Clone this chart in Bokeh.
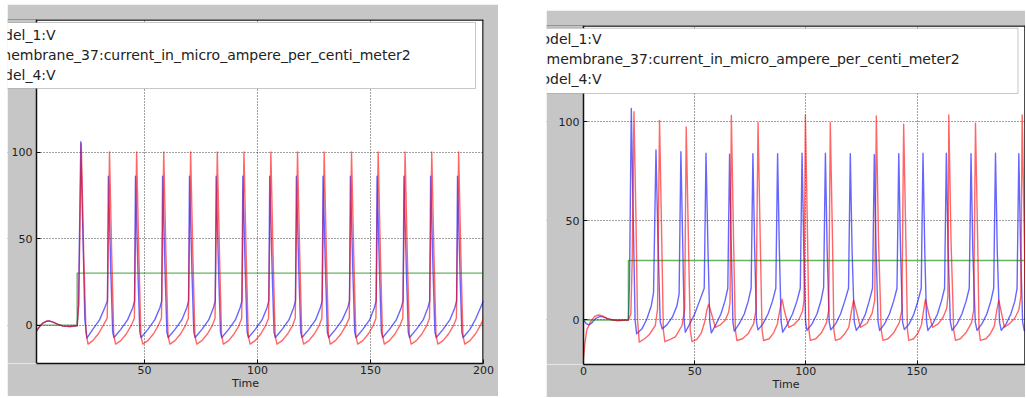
from bokeh.plotting import figure
from bokeh.layouts import row
from bokeh.models import Range1d, FixedTicker, Label, BoxAnnotation, Span
from bokeh.embed import file_html
from bokeh.resources import INLINE

# ---------------- data ----------------
LEGEND_TEXTS = ["odel_1:V",
                "membrane_37:current_in_micro_ampere_per_centi_meter2",
                "odel_4:V"]
X_LABEL = "Time"

LEFT_XTICKS = [50, 100, 150, 200]
LEFT_YTICKS = [0, 50, 100]
RIGHT_XTICKS = [0, 50, 100, 150]
RIGHT_YTICKS = [0, 50, 100]

# visible data limits of each panel (x start, x end, y start, y end)
LEFT_LIMITS = (2.2, 200.0, -22.2, 176.6)
RIGHT_LIMITS = (0.0, 198.8, -22.5, 148.7)

# left panel: model_1:V (blue)
LEFT_BLUE = [
    (2.2, -3.4), (3.5, -1.0), (5.0, 1.2), (6.5, 2.2), (7.8, 2.4), (9.5, 1.7), (11.5, 0.5),
    (14.0, -0.6), (17.0, -0.8), (20.2, -0.4), (20.8, 12), (21.8, 106), (22.7, 55), (23.6, 3), (24.5, -7.5),
    (27.1, -2.5), (30.1, 3), (32.4, 10), (33.6, 14), (34.0, 86), (35.1, 30), (35.9, -4), (36.5, -7.2),
    (39.5, -2.5), (42.5, 3), (44.8, 10), (45.6, 14), (46.0, 86), (47.1, 30), (47.9, -4), (48.5, -7.2),
    (51.5, -2.5), (54.5, 3), (56.8, 10), (57.6, 14), (58.0, 86), (59.1, 30), (59.9, -4), (60.5, -7.2),
    (63.5, -2.5), (66.5, 3), (68.7, 10), (69.5, 14), (69.9, 86), (71.0, 30), (71.8, -4), (72.4, -7.2),
    (75.4, -2.5), (78.4, 3), (80.5, 10), (81.3, 14), (81.7, 86), (82.8, 30), (83.6, -4), (84.2, -7.2),
    (87.2, -2.5), (90.2, 3), (92.3, 10), (93.1, 14), (93.5, 86), (94.6, 30), (95.4, -4), (96.0, -7.2),
    (99.0, -2.5), (102.0, 3), (104.2, 10), (105.0, 14), (105.4, 86), (106.5, 30), (107.3, -4), (107.9, -7.2),
    (110.9, -2.5), (113.9, 3), (116.0, 10), (116.8, 14), (117.2, 86), (118.3, 30), (119.1, -4), (119.7, -7.2),
    (122.7, -2.5), (125.7, 3), (127.8, 10), (128.6, 14), (129.0, 86), (130.1, 30), (130.9, -4), (131.5, -7.2),
    (134.5, -2.5), (137.5, 3), (139.9, 10), (140.7, 14), (141.1, 86), (142.2, 30), (143.0, -4), (143.6, -7.2),
    (146.6, -2.5), (149.6, 3), (151.7, 10), (152.5, 14), (152.9, 86), (154.0, 30), (154.8, -4), (155.4, -7.2),
    (158.4, -2.5), (161.4, 3), (163.6, 10), (164.4, 14), (164.8, 86), (165.9, 30), (166.7, -4), (167.3, -7.2),
    (170.3, -2.5), (173.3, 3), (175.4, 10), (176.2, 14), (176.6, 86), (177.7, 30), (178.5, -4), (179.1, -7.2),
    (182.1, -2.5), (185.1, 3), (187.3, 10), (188.1, 14), (188.5, 86), (189.6, 30), (190.4, -4), (191.0, -7.2),
    (194.0, -2.5), (196.5, 3.5), (199.0, 11), (200.0, 14),
]

# left panel: membrane_37 current (green)
LEFT_GREEN = [(2.2, 0), (20.2, 0), (20.2, 30), (200.0, 30)]

# left panel: model_4:V (red)
LEFT_RED = [
    (2.2, -3.4), (3.5, -1.0), (5.0, 1.2), (6.5, 2.2), (7.8, 2.4), (9.5, 1.7), (11.5, 0.5),
    (14.0, -0.6), (17.0, -0.8), (20.2, -0.4), (20.9, 12), (22.0, 105), (23.1, 40), (24.1, -4), (25.0, -11),
    (27.1, -9), (29.6, -5), (31.6, -0.5), (33.5, 4), (34.5, 100), (35.5, 40), (36.4, -6), (37.2, -11),
    (39.5, -9), (42.0, -5), (44.0, -0.5), (45.5, 4), (46.5, 100), (47.5, 40), (48.4, -6), (49.2, -11),
    (51.5, -9), (54.0, -5), (56.0, -0.5), (57.5, 4), (58.5, 100), (59.5, 40), (60.4, -6), (61.2, -11),
    (63.5, -9), (66.0, -5), (68.0, -0.5), (69.4, 4), (70.4, 100), (71.4, 40), (72.3, -6), (73.1, -11),
    (75.4, -9), (77.9, -5), (79.9, -0.5), (81.2, 4), (82.2, 100), (83.2, 40), (84.1, -6), (84.9, -11),
    (87.2, -9), (89.7, -5), (91.7, -0.5), (93.0, 4), (94.0, 100), (95.0, 40), (95.9, -6), (96.7, -11),
    (99.0, -9), (101.5, -5), (103.5, -0.5), (104.9, 4), (105.9, 100), (106.9, 40), (107.8, -6), (108.6, -11),
    (110.9, -9), (113.4, -5), (115.4, -0.5), (116.7, 4), (117.7, 100), (118.7, 40), (119.6, -6), (120.4, -11),
    (122.7, -9), (125.2, -5), (127.2, -0.5), (128.5, 4), (129.5, 100), (130.5, 40), (131.4, -6), (132.2, -11),
    (134.5, -9), (137.0, -5), (139.0, -0.5), (140.6, 4), (141.6, 100), (142.6, 40), (143.5, -6), (144.3, -11),
    (146.6, -9), (149.1, -5), (151.1, -0.5), (152.4, 4), (153.4, 100), (154.4, 40), (155.3, -6), (156.1, -11),
    (158.4, -9), (160.9, -5), (162.9, -0.5), (164.3, 4), (165.3, 100), (166.3, 40), (167.2, -6), (168.0, -11),
    (170.3, -9), (172.8, -5), (174.8, -0.5), (176.1, 4), (177.1, 100), (178.1, 40), (179.0, -6), (179.8, -11),
    (182.1, -9), (184.6, -5), (186.6, -0.5), (188.0, 4), (189.0, 100), (190.0, 40), (190.9, -6), (191.7, -11),
    (194.0, -9), (196.5, -5), (198.5, -0.5), (200.0, 4),
]

# right panel: model_1:V (blue)
RIGHT_BLUE = [
    (0.0, 0.0), (1.2, -1.8), (2.5, -2.5), (4.0, -1.2), (5.5, 0.8), (7.5, 1.8), (9.5, 1.3), (12.0, 0.2),
    (15.0, -0.3), (20.2, 0.0), (20.7, 20), (21.5, 106.8), (22.4, 50), (23.2, 0), (23.9, -7),
    (26.3, -4.5), (28.5, 0.5), (30.5, 7.2), (31.5, 13.8), (32.6, 85.8), (33.5, 40), (34.5, -1), (35.4, -4.5),
    (37.5, -2.5), (40.0, 1.5), (42.0, 7), (43.0, 13), (43.8, 85), (44.6, 40), (45.3, -1), (45.8, -6.2),
    (47.8, -2), (50.0, 3), (52.0, 9), (54.3, 16), (55.1, 84.2), (56.0, 35), (56.8, -1), (57.5, -6.5),
    (59.7, -2), (61.8, 3), (63.6, 9.5), (64.9, 16), (65.7, 83.7), (66.5, 35), (67.2, -1), (67.8, -5.7),
    (70.0, -2), (72.3, 3), (74.1, 9.5), (75.4, 16), (76.2, 84), (77.0, 35), (77.8, -1), (78.5, -5),
    (80.7, -2), (83.0, 3), (85.0, 9.5), (86.5, 16), (87.3, 84), (88.1, 35), (88.9, -1), (89.6, -6.2),
    (91.8, -2), (94.0, 3), (96.0, 9.5), (97.5, 16), (98.3, 84.2), (99.1, 35), (99.9, -1), (100.5, -5.3),
    (102.8, -2), (105.0, 3), (106.8, 9.7), (108.0, 16.3), (108.8, 84.2), (109.6, 35), (110.5, -1), (111.2, -5),
    (113.4, -2), (115.6, 3), (117.5, 9.5), (119.2, 16), (120.0, 84), (120.8, 35), (121.8, -1), (122.7, -5.3),
    (124.8, -2), (126.8, 3), (128.5, 9.5), (130.0, 16), (130.8, 83.5), (131.6, 35), (132.5, -1), (133.2, -5.3),
    (135.4, -2), (137.6, 3), (139.5, 9.5), (141.0, 16), (141.8, 84), (142.6, 35), (143.5, -1), (144.3, -4.8),
    (146.5, -2), (148.6, 3), (150.4, 9.5), (151.9, 16), (152.7, 84.2), (153.5, 35), (154.3, -1), (154.9, -5.3),
    (157.1, -2), (159.2, 3), (161.0, 9.5), (162.4, 16), (163.2, 84.2), (164.0, 35), (165.0, -1), (165.8, -5.3),
    (168.0, -2), (170.2, 3), (172.1, 9.5), (173.5, 16), (174.3, 84), (175.1, 35), (176.2, -1), (177.0, -5.3),
    (179.2, -2), (181.4, 3), (183.2, 9.5), (184.5, 16), (185.3, 84.2), (186.1, 35), (187.1, -1), (187.9, -5.3),
    (190.1, -2), (192.2, 3), (194.0, 9.5), (195.0, 16), (195.8, 84), (196.6, 35), (197.5, -1), (198.2, -5.3),
    (200.0, -3),
]

# right panel: membrane_37 current (green)
RIGHT_GREEN = [(0.0, 0), (20.2, 0), (20.2, 30), (200.0, 30)]

# right panel: model_4:V (red)
RIGHT_RED = [
    (0.0, -19.5), (0.6, -12), (1.5, -5), (3.0, -1.2), (5.0, 1.8), (6.8, 2.5), (8.5, 2.0), (10.5, 0.8),
    (13.0, 0.0), (16.0, -0.3), (20.2, 0.0), (21.3, 3), (21.9, 30), (22.7, 105.2), (23.6, 50), (24.3, 0), (25.1, -11.2),
    (27.5, -9.5), (29.5, -7.5), (32.3, -2.8), (33.3, 5.5), (34.2, 100.8), (35.2, 40), (35.9, -5), (36.6, -11),
    (39.0, -9.8), (41.3, -8.5), (44.3, -2.8), (45.5, 5.5), (46.2, 97.5), (47.2, 40), (48.0, -5), (48.8, -11),
    (51.0, -9.8), (53.0, -6.5), (54.5, -1), (55.5, 5), (56.3, 8), (57.6, 3), (59.3, -3.7),
    (61.5, -2.5), (63.8, 0), (65.3, 4), (65.9, 9), (66.5, 103.3), (67.5, 40), (68.3, -5), (69.0, -10.4),
    (71.5, -9.5), (74.0, -7), (76.5, -2), (77.6, 5), (78.5, 99.7), (79.5, 40), (80.3, -5), (81.0, -10.4),
    (83.5, -9.5), (85.5, -6.5), (87.2, -2), (88.3, 5), (89.3, 10.5), (90.5, 4), (92.3, -3.7),
    (94.5, -2.5), (97.0, 0.5), (98.5, 4.5), (99.2, 10), (99.8, 103.5), (100.8, 40), (101.4, -5), (102.0, -10.3),
    (104.5, -9.5), (107.0, -6.5), (109.3, -1.5), (110.3, 5), (111.0, 99.7), (112.0, 40), (112.6, -5), (113.3, -10.3),
    (115.5, -9.5), (117.5, -7), (119.3, -3.7), (120.6, 5), (121.5, 10), (123.0, 3.3), (124.5, -3.7),
    (127.5, -1.8), (129.8, 3.3), (131.0, 10), (131.7, 103), (132.7, 40), (133.9, -5), (134.7, -10.3),
    (137.0, -9.5), (139.5, -6.5), (142.0, -1.5), (143.2, 5), (144.0, 98.8), (145.0, 40), (145.7, -5), (146.3, -10.3),
    (148.5, -9.5), (150.5, -6.5), (152.0, -2.5), (153.0, 5), (153.8, 10.5), (155.2, 3.5), (157.0, -3.7),
    (159.5, -2), (161.8, 1.5), (163.4, 6), (163.9, 12), (164.3, 103.5), (165.3, 40), (166.5, -5), (167.3, -10.3),
    (169.5, -9.5), (172.0, -6.5), (174.5, -1.5), (175.5, 5), (176.3, 99.3), (177.3, 40), (177.9, -5), (178.5, -10.3),
    (181.0, -9.5), (183.0, -7), (184.8, -3), (185.9, 5), (186.8, 10), (188.0, 3.5), (189.3, -3.7),
    (191.5, -2), (194.0, 1), (195.8, 5), (196.7, 12), (197.3, 103.5), (198.3, 40), (199.0, -5), (199.6, -10),
]

# ---------------- styling ----------------
GRAY = "#c6c6c6"
INK = "#111111"
BLUE, GREEN, RED = "#0000ff", "#008000", "#ff0000"
FONT = "DejaVu Sans"


def make_panel(width, height, limits, pad_left_px, mb_right, mb_top, mb_bottom,
               plot_px_width, xticks, yticks, margin, right_spine):
    x0, x1, y0, y1 = limits
    # frame also covers the grey strip left of the y axis, so the legend can overlap it
    x_start = x0 - pad_left_px * (x1 - x0) / plot_px_width
    p = figure(width=width, height=height,
               x_range=Range1d(x_start, x1), y_range=Range1d(y0, y1),
               output_backend="svg", toolbar_location=None,
               min_border_left=0, min_border_right=mb_right,
               min_border_top=mb_top, min_border_bottom=mb_bottom, margin=margin)
    p.background_fill_color = "white"
    p.border_fill_color = GRAY
    p.outline_line_color = None

    # spines on top / right (drawn first so the grey strip hides their left end)
    p.add_layout(Span(location=y1, dimension="width", line_color=INK, line_width=2.5, level="underlay"))
    if right_spine:
        p.add_layout(Span(location=x1, dimension="height", line_color=INK, line_width=2.5, level="underlay"))
    # grey strip left of the y axis
    p.add_layout(BoxAnnotation(left=x_start, right=x0, bottom=y0, top=y1, fill_color=GRAY,
                               fill_alpha=1.0, line_color=None, level="underlay"))

    xa, ya = p.xaxis[0], p.yaxis[0]
    ya.fixed_location = x0
    xa.bounds = (x0, x1)
    for ax in (xa, ya):
        ax.axis_line_color = INK
        ax.axis_line_width = 1.5
        ax.major_tick_in = 4
        ax.major_tick_out = 0
        ax.minor_tick_in = 0
        ax.minor_tick_out = 0
        ax.major_tick_line_color = INK
        ax.major_label_text_font = FONT
        ax.major_label_text_font_size = "11px"
        ax.major_label_text_color = "#222222"
    xa.ticker = FixedTicker(ticks=xticks)
    ya.ticker = FixedTicker(ticks=yticks)
    xa.major_label_standoff = 2
    ya.major_label_standoff = 4
    xa.axis_label = X_LABEL
    xa.axis_label_standoff = 0
    xa.axis_label_text_font = FONT
    xa.axis_label_text_font_size = "11px"
    xa.axis_label_text_font_style = "normal"
    xa.axis_label_text_color = "#222222"

    p.xgrid.ticker = FixedTicker(ticks=xticks)
    p.ygrid.ticker = FixedTicker(ticks=yticks)
    p.ygrid.bounds = (x0, x1)
    for g in (p.xgrid, p.ygrid):
        g.grid_line_color = "#222222"
        g.grid_line_dash = "1 2"
        g.grid_line_width = 1
        g.grid_line_alpha = 0.85
    return p


def draw(p, blue, green, red):
    for pts, col in ((blue, BLUE), (green, GREEN), (red, RED)):
        p.line([q[0] for q in pts], [q[1] for q in pts], line_color=col, line_alpha=0.6,
               line_width=1.4, line_join="round")


def legend(p, box_right, box_top, box_bottom, text_xs, line_ys):
    p.add_layout(BoxAnnotation(left=-6, right=box_right, top=box_top, bottom=box_bottom,
                               left_units="screen", right_units="screen",
                               top_units="screen", bottom_units="screen",
                               fill_color="white", fill_alpha=1.0,
                               line_color="#444444", line_width=1, level="annotation"))
    for txt, x, y in zip(LEGEND_TEXTS, text_xs, line_ys):
        p.add_layout(Label(x=x, y=y, x_units="screen", y_units="screen", text=txt,
                           text_font=FONT, text_font_size="14px", text_color="#222222",
                           text_baseline="middle", text_align="left"))


# left panel: canvas at page (7, 4), 491 x 392; frame x 7..483, y 19..366
left = make_panel(491, 392, LEFT_LIMITS, 29, 15, 15, 30, 447,
                  LEFT_XTICKS, LEFT_YTICKS, (4, 0, 0, 7), True)
draw(left, LEFT_BLUE, LEFT_GREEN, LEFT_RED)
legend(left, 468, 341, 275, [-12, -10, -12], [328.7, 308.7, 288.7])

# right panel: canvas at page (546, 10), 479 x 387; frame x 546..1025, y 22..364
right = make_panel(479, 387, RIGHT_LIMITS, 37, 0, 12, 33, 442,
                   RIGHT_XTICKS, RIGHT_YTICKS, (10, 0, 0, 48), True)
draw(right, RIGHT_BLUE, RIGHT_GREEN, RIGHT_RED)
legend(right, 471.5, 336.3, 271, [-5, 0, -5], [325.7, 305.7, 285.7])

layout = row(left, right)
open("out.html", "w").write(file_html(layout, INLINE))
